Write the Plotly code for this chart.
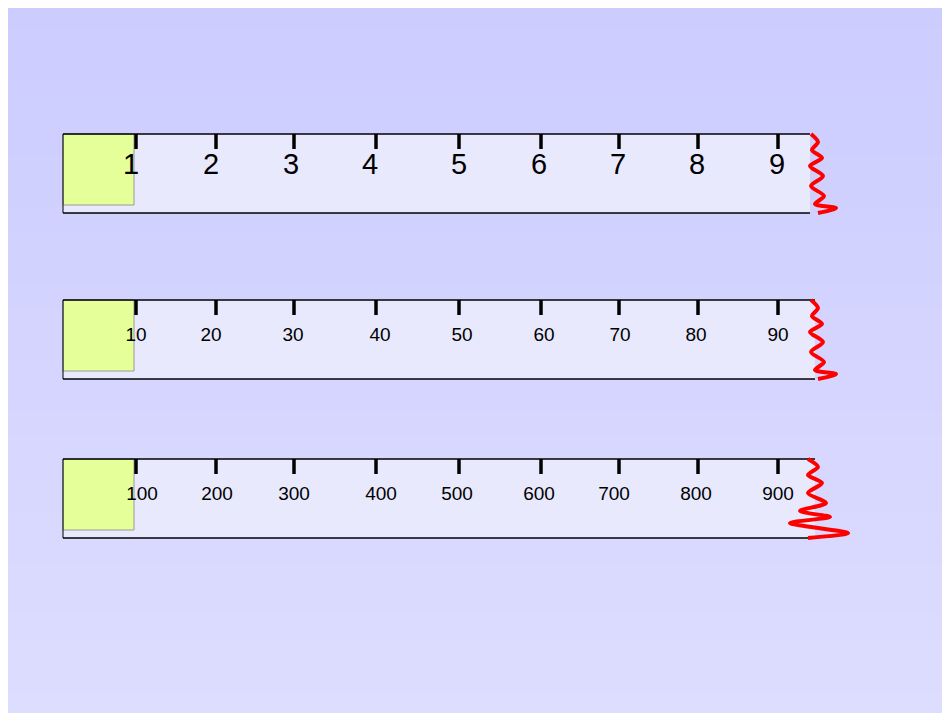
import plotly.graph_objects as go

# tick positions (pixel-like units) and labels for the three rulers
tick_x = [136, 216, 294, 376, 459, 541, 619, 698, 778]
labels_1 = ['1', '2', '3', '4', '5', '6', '7', '8', '9']
labels_2 = ['10', '20', '30', '40', '50', '60', '70', '80', '90']
labels_3 = ['100', '200', '300', '400', '500', '600', '700', '800', '900']
label_x_1 = [131, 211, 291, 370, 459, 539, 618, 697, 777]
label_x_2 = [136, 211, 293, 380, 462, 544, 620, 696, 778]
label_x_3 = [142, 217, 294, 381, 457, 539, 614, 696, 778]

# torn-edge squiggles (x, y offsets from ruler top)
squig_x_1 = [811, 818, 812, 822, 810, 823, 811, 824, 815, 836, 818]
squig_y_1 = [0, 8, 16, 24, 32, 42, 52, 62, 70, 74, 79]
squig_x_3 = [808, 818, 808, 822, 808, 826, 800, 830, 790, 848, 808]
squig_y_3 = [0, 8, 16, 24, 34, 44, 52, 58, 64, 74, 79]

rulers = [
    dict(top=134, right=810, labels=labels_1, lx=label_x_1, size=29, ly=33, sx=squig_x_1, sy=squig_y_1),
    dict(top=300, right=815, labels=labels_2, lx=label_x_2, size=19, ly=36, sx=squig_x_1, sy=squig_y_1),
    dict(top=459, right=815, labels=labels_3, lx=label_x_3, size=19, ly=36, sx=squig_x_3, sy=squig_y_3),
]
H = 79
OFF = 8  # page body margin

fig = go.Figure()
shapes = []

# background gradient
steps = 30
for i in range(steps):
    t = i / (steps - 1)
    r = int(204 + (222 - 204) * t)
    shapes.append(dict(type='rect', x0=-20, x1=980,
                       y0=-20 + 760 * i / steps, y1=-20 + 760 * (i + 1) / steps,
                       fillcolor=f'rgb({r},{r},255)', line=dict(width=0), layer='below'))

for rl in rulers:
    top, right = rl['top'], rl['right']
    shapes.append(dict(type='rect', x0=63, x1=right, y0=top, y1=top + H,
                       fillcolor='#e9e9fd', line=dict(width=0), layer='below'))
    shapes.append(dict(type='rect', x0=63, x1=134, y0=top, y1=top + H - 8,
                       fillcolor='#e5ff99', line=dict(color='#999999', width=1), layer='below'))
    for y in (top, top + H):
        shapes.append(dict(type='line', x0=63, x1=right, y0=y, y1=y,
                           line=dict(color='black', width=1.5), layer='below'))
    shapes.append(dict(type='line', x0=63, x1=63, y0=top, y1=top + H,
                       line=dict(color='black', width=1), layer='below'))

    xs, ys = [], []
    for x in tick_x:
        xs += [x, x, None]
        ys += [top, top + 15, None]
    fig.add_trace(go.Scatter(x=xs, y=ys, mode='lines', line=dict(color='black', width=3.5),
                             hoverinfo='skip'))
    fig.add_trace(go.Scatter(x=rl['lx'], y=[top + rl['ly']] * len(rl['lx']), mode='text',
                             text=rl['labels'],
                             textfont=dict(family='Liberation Sans, Arial', size=rl['size'], color='black'),
                             hoverinfo='skip'))
    fig.add_trace(go.Scatter(x=rl['sx'], y=[top + v for v in rl['sy']], mode='lines',
                             line=dict(color='#ff0000', width=4, shape='spline', smoothing=0.8),
                             hoverinfo='skip'))

fig.update_layout(
    width=950, height=713, margin=dict(l=0, r=0, t=0, b=0),
    showlegend=False, shapes=shapes,
    paper_bgcolor='#d4d4ff', plot_bgcolor='#d4d4ff',
    xaxis=dict(range=[OFF, 950 + OFF], visible=False, fixedrange=True),
    yaxis=dict(range=[713 + OFF, OFF], visible=False, fixedrange=True),
)
fig.write_html('out.html')
